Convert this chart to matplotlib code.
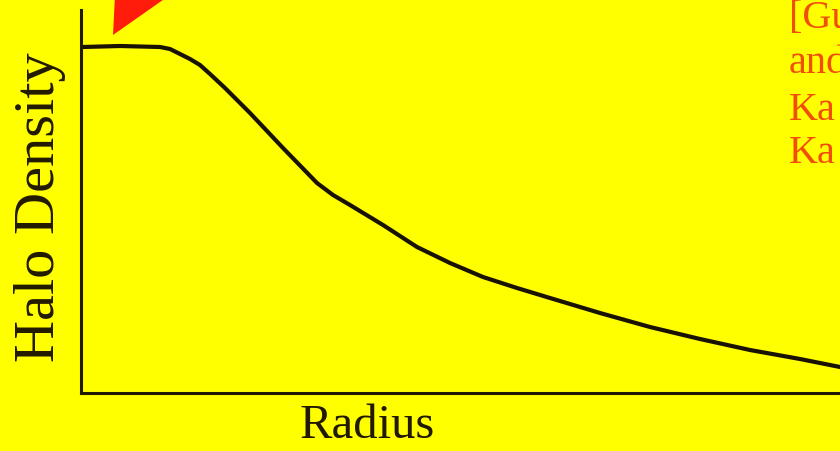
import matplotlib
matplotlib.use("Agg")
import matplotlib.pyplot as plt
from matplotlib.patches import Polygon

# Schematic halo density profile: flat core, then a falling tail
radius = [2, 39, 79, 89, 99, 109, 119, 129, 144, 169, 202, 236, 252, 269,
          302, 336, 369, 402, 436, 469, 519, 569, 619, 669, 719, 759]
density = [346, 347, 346, 344, 339, 334, 328, 319, 305, 280, 245, 210, 198,
           188, 168, 146, 130, 116, 105, 95, 80, 66, 54, 43, 34, 26]

x_label = "Radius"
y_label = "Halo Density"
reference_lines = ["[Gu", "and", "Ka", "Ka"]

BG = "#ffff00"
INK = "#221a00"
RED = "#ff1c0a"
ORANGE = "#f24e08"
W, H = 840, 451

fig = plt.figure(figsize=(W / 100, H / 100), dpi=100, facecolor=BG)
ax = fig.add_axes([81 / W, 58 / H, 759 / W, 383 / H])
ax.set_facecolor(BG)
ax.plot(radius, density, color="#1a1200", lw=3.0, solid_capstyle="round",
        solid_joinstyle="round")
ax.set_xlim(0, 759)
ax.set_ylim(0, 383)
for side in ("top", "right"):
    ax.spines[side].set_visible(False)
for side in ("left", "bottom"):
    ax.spines[side].set_color(INK)
    ax.spines[side].set_linewidth(2.2)
ax.set_xticks([])
ax.set_yticks([])

serif = "Liberation Serif"
fig.text(367 / W, 13 / H, x_label, ha="center", va="baseline",
         fontsize=35, family=serif, color=INK)
fig.text(40 / W, 244 / H, y_label, ha="center", va="center", rotation=90,
         fontsize=42, family=serif, color=INK)

# Pointer arrow head at the top of the core
tri = Polygon([(113 / W, (H - 35) / H), (115 / W, (H + 5) / H),
               (170 / W, (H + 5) / H)],
              closed=True, transform=fig.transFigure, color=RED, lw=0)
fig.patches.append(tri)

# Citation lines running off the right edge
baselines = [28, 73, 120, 163]
for txt, b in zip(reference_lines, baselines):
    fig.text(789 / W, (H - b) / H, txt, ha="left", va="baseline",
             fontsize=29, family=serif, color=ORANGE)

fig.savefig("out.png", dpi=100, facecolor=BG)
